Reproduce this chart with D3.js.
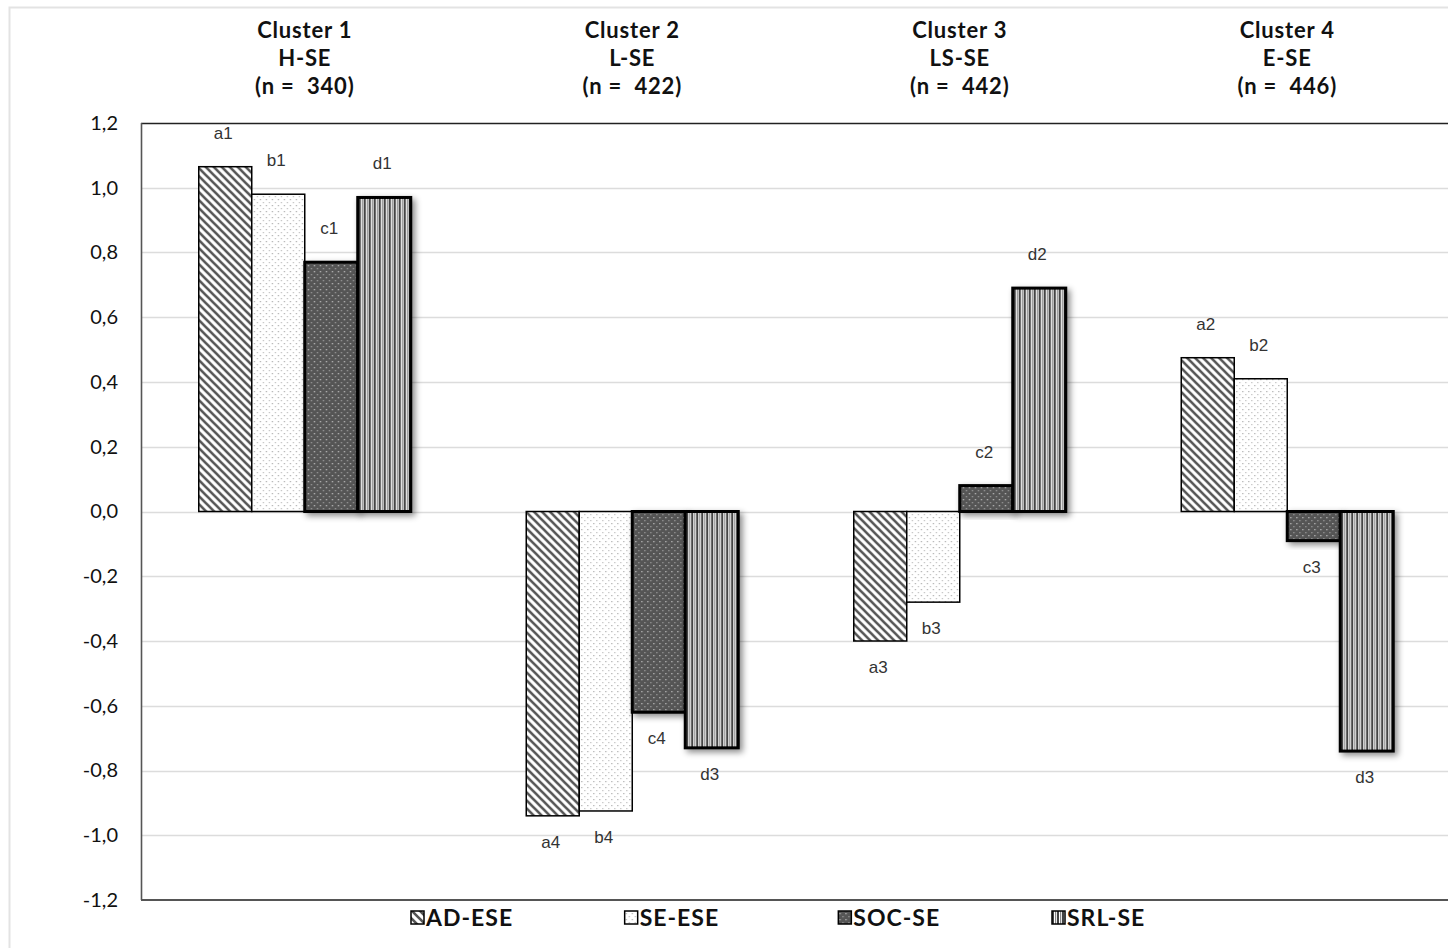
<!DOCTYPE html>
<html>
<head>
<meta charset="utf-8">
<script src="https://cdn.jsdelivr.net/npm/d3@7"></script>
<style>
  html, body { margin: 0; padding: 0; background: #fff; }
  svg { display: block; }
</style>
</head>
<body>
<svg id="chart" width="1448" height="948"></svg>
<script>
// ---- data ----
const clusters = ["Cluster 1", "Cluster 2", "Cluster 3", "Cluster 4"];
const clusterCodes = ["H-SE", "L-SE", "LS-SE", "E-SE"];
const clusterN = ["(n =  340)", "(n =  422)", "(n =  442)", "(n =  446)"];
const seriesNames = ["AD-ESE", "SE-ESE", "SOC-SE", "SRL-SE"];
const adEse  = [1.065, -0.94, -0.40, 0.475];
const seEse  = [0.98, -0.925, -0.28, 0.41];
const socSe  = [0.77, -0.62, 0.08, -0.09];
const srlSe  = [0.97, -0.73, 0.69, -0.74];
const barLabels = [
  ["a1", "a4", "a3", "a2"],
  ["b1", "b4", "b3", "b2"],
  ["c1", "c4", "c2", "c3"],
  ["d1", "d3", "d2", "d3"]
];
const yTicks = [1.2, 1.0, 0.8, 0.6, 0.4, 0.2, 0.0, -0.2, -0.4, -0.6, -0.8, -1.0, -1.2];
const yTickLabels = ["1,2", "1,0", "0,8", "0,6", "0,4", "0,2", "0,0", "-0,2", "-0,4", "-0,6", "-0,8", "-1,0", "-1,2"];

const seriesValues = [adEse, seEse, socSe, srlSe];

(function () {
// ---- layout ----
const svg = d3.select("#chart");
const pLeft = 141, pTop = 123, pBottom = 900, pRight = 1451;

const y = d3.scaleLinear().domain([-1.2, 1.2]).range([pBottom, pTop]);
const x0 = d3.scaleBand().domain(clusters).range([pLeft, pRight]).paddingInner(0).paddingOuter(0);
const groupW = 212;
const x1 = d3.scaleBand().domain(seriesNames).range([0, groupW]).padding(0);

// ---- defs: patterns and shadow ----
const defs = svg.append("defs");
const pA = defs.append("pattern").attr("id", "patA").attr("patternUnits", "userSpaceOnUse")
  .attr("width", 8).attr("height", 8);
pA.append("rect").attr("width", 8).attr("height", 8).attr("fill", "#fff");
pA.append("path").attr("d", "M-2,-2 L10,10 M-2,6 L2,10 M6,-2 L10,2")
  .attr("stroke", "#555").attr("stroke-width", 2.6);
const pB = defs.append("pattern").attr("id", "patB").attr("patternUnits", "userSpaceOnUse")
  .attr("width", 6).attr("height", 6);
pB.append("rect").attr("width", 6).attr("height", 6).attr("fill", "#fff");
pB.append("rect").attr("x", 1).attr("y", 1).attr("width", 1.2).attr("height", 1.2).attr("fill", "#aaa");
pB.append("rect").attr("x", 4).attr("y", 4).attr("width", 1.2).attr("height", 1.2).attr("fill", "#bbb");
const pC = defs.append("pattern").attr("id", "patC").attr("patternUnits", "userSpaceOnUse")
  .attr("width", 6).attr("height", 6);
pC.append("rect").attr("width", 6).attr("height", 6).attr("fill", "#555");
pC.append("rect").attr("x", 1).attr("y", 1).attr("width", 1.3).attr("height", 1.3).attr("fill", "#bbb");
pC.append("rect").attr("x", 4).attr("y", 4).attr("width", 1.3).attr("height", 1.3).attr("fill", "#999");
const pD = defs.append("pattern").attr("id", "patD").attr("patternUnits", "userSpaceOnUse")
  .attr("width", 5).attr("height", 5);
pD.append("rect").attr("width", 5).attr("height", 5).attr("fill", "#fff");
pD.append("rect").attr("x", 0).attr("width", 2).attr("height", 5).attr("fill", "#444");
pD.append("rect").attr("x", 3).attr("width", 1.2).attr("height", 5).attr("fill", "#888");

const shadow = defs.append("filter").attr("id", "shadow")
  .attr("x", "-20%").attr("y", "-20%").attr("width", "150%").attr("height", "150%");
shadow.append("feDropShadow").attr("dx", 3).attr("dy", 3).attr("stdDeviation", 3)
  .attr("flood-color", "#000").attr("flood-opacity", 0.45);

const fills = ["url(#patA)", "url(#patB)", "url(#patC)", "url(#patD)"];
const strokeW = [1.5, 1.5, 3, 3];
const hasShadow = [false, false, true, true];

// ---- outer frame ----
svg.append("path").attr("d", "M9.5,948 L9.5,7.5 L1448,7.5")
  .attr("fill", "none").attr("stroke", "#e3e3e3").attr("stroke-width", 2);

// ---- gridlines ----
svg.append("g").selectAll("line").data(yTicks.filter(d => d !== 1.2 && d !== -1.2)).join("line")
  .attr("x1", pLeft).attr("x2", pRight)
  .attr("y1", d => Math.round(y(d)) + 0.5).attr("y2", d => Math.round(y(d)) + 0.5)
  .attr("stroke", "#dcdcdc").attr("stroke-width", 1.3);

// ---- plot border ----
svg.append("line").attr("x1", pLeft).attr("x2", pRight).attr("y1", pTop + 0.5).attr("y2", pTop + 0.5)
  .attr("stroke", "#222").attr("stroke-width", 1.6);
svg.append("line").attr("x1", pLeft).attr("x2", pRight).attr("y1", pBottom).attr("y2", pBottom)
  .attr("stroke", "#555").attr("stroke-width", 1.8);
svg.append("line").attr("x1", pLeft + 0.5).attr("x2", pLeft + 0.5).attr("y1", pTop).attr("y2", pBottom)
  .attr("stroke", "#555").attr("stroke-width", 1.6);

// ---- y axis tick labels ----
const yAxis = d3.axisLeft(y).tickValues(yTicks).tickSize(0).tickPadding(0)
  .tickFormat((d, i) => yTickLabels[i]);
const yg = svg.append("g").attr("transform", `translate(${118},0)`).call(yAxis);
yg.select(".domain").remove();
yg.selectAll("text").attr("font-family", "Lato, 'Open Sans', sans-serif")
  .attr("font-size", 20).attr("fill", "#111");

// ---- bars ----
const groups = svg.append("g").selectAll("g").data(clusters).join("g")
  .attr("transform", c => `translate(${x0(c) + (x0.bandwidth() - groupW) / 2},0)`);

seriesNames.forEach((s, si) => {
  groups.append("rect")
    .attr("x", () => x1(s))
    .attr("width", x1.bandwidth())
    .attr("y", (c, ci) => y(Math.max(0, seriesValues[si][ci])))
    .attr("height", (c, ci) => Math.abs(y(seriesValues[si][ci]) - y(0)))
    .attr("fill", fills[si])
    .attr("stroke", "#000")
    .attr("stroke-width", strokeW[si])
    .attr("filter", hasShadow[si] ? "url(#shadow)" : null);
});

// ---- bar labels ----
seriesNames.forEach((s, si) => {
  groups.append("text")
    .attr("x", () => x1(s) + x1.bandwidth() / 2 - 2)
    .attr("y", (c, ci) => {
      const v = seriesValues[si][ci];
      return v >= 0 ? y(v) - 28 : y(v) + 32;
    })
    .attr("text-anchor", "middle")
    .attr("font-family", "Arial, 'Liberation Sans', sans-serif")
    .attr("font-size", 17)
    .attr("fill", "#333")
    .text((c, ci) => barLabels[si][ci]);
});

// ---- cluster titles ----
const titles = svg.append("g").selectAll("text").data(clusters).join("text")
  .attr("text-anchor", "middle")
  .attr("font-family", "Lato, 'Open Sans', sans-serif")
  .attr("font-weight", "bold")
  .attr("font-size", 22)
  .attr("letter-spacing", 0.8)
  .style("white-space", "pre")
  .attr("fill", "#111");
titles.append("tspan").attr("x", c => x0(c) + x0.bandwidth() / 2).attr("y", 38).text(c => c);
titles.append("tspan").attr("x", c => x0(c) + x0.bandwidth() / 2).attr("y", 66).text((c, i) => clusterCodes[i]);
titles.append("tspan").attr("x", c => x0(c) + x0.bandwidth() / 2).attr("y", 94).text((c, i) => clusterN[i]);

// ---- legend ----
const legendX = d3.scalePoint().domain(seriesNames).range([411, 1052]);
const lg = svg.append("g").selectAll("g").data(seriesNames).join("g")
  .attr("transform", d => `translate(${legendX(d)},${918})`);
lg.append("rect").attr("x", 0).attr("y", -7).attr("width", 13).attr("height", 13)
  .attr("fill", (d, i) => fills[i]).attr("stroke", "#000").attr("stroke-width", 1.5);
lg.append("text").attr("x", 15).attr("y", 8)
  .attr("font-family", "Lato, 'Open Sans', sans-serif")
  .attr("font-weight", "bold").attr("font-size", 23).attr("letter-spacing", 1)
  .attr("fill", "#111")
  .text(d => d);
})();
</script>
</body>
</html>
